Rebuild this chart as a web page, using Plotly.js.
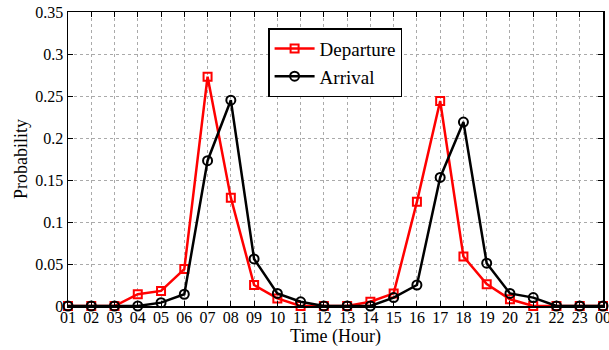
<!DOCTYPE html>
<html>
<head>
<meta charset="utf-8">
<script src="https://cdn.plot.ly/plotly-3.0.1.min.js"></script>
<style>html,body{margin:0;padding:0;background:#fff;}#chart{width:609px;height:350px;}</style>
</head>
<body>
<div id="chart"></div>
<script>
const hours = ["01","02","03","04","05","06","07","08","09","10","11","12","13","14","15","16","17","18","19","20","21","22","23","00"];
const departure = [0,0,0,0.014,0.018,0.044,0.273,0.129,0.025,0.009,0,0,0,0.005,0.015,0.124,0.244,0.059,0.026,0.008,0,0,0,0];
const arrival = [0,0,0,0,0.004,0.014,0.173,0.245,0.056,0.015,0.005,0,0,0,0.010,0.025,0.153,0.219,0.051,0.015,0.010,0,0,0];
const yTicks = [0,0.05,0.1,0.15,0.2,0.25,0.3,0.35];
const yTickText = ["0","0.05","0.1","0.15","0.2","0.25","0.3","0.35"];

const font = "'Liberation Serif', 'Times New Roman', Times, serif";
const traces = [
  {x: hours, y: departure, name: "Departure", type: "scatter", mode: "lines+markers",
   line: {color: "#ff0000", width: 2.5},
   marker: {symbol: "square-open", size: 8, color: "#ff0000", line: {width: 2, color: "#ff0000"}},
   cliponaxis: false},
  {x: hours, y: arrival, name: "Arrival", type: "scatter", mode: "lines+markers",
   line: {color: "#000000", width: 2.5},
   marker: {symbol: "circle-open", size: 9, color: "#000000", line: {width: 2, color: "#000000"}},
   cliponaxis: false}
];
const layout = {
  width: 609, height: 350,
  margin: {l: 68, r: 6, t: 12, b: 44},
  paper_bgcolor: "#fff", plot_bgcolor: "#fff",
  font: {family: font, size: 15, color: "#000"},
  showlegend: true,
  legend: {x: 0.374, y: 0.945, xanchor: "left", yanchor: "top",
    bgcolor: "#fff", bordercolor: "#000", borderwidth: 1.5,
    font: {family: font, size: 19, color: "#000"},
    tracegroupgap: 0, itemwidth: 40},
  xaxis: {
    type: "category", categoryorder: "array", categoryarray: hours,
    range: [0, 23],
    showline: true, linecolor: "#000", linewidth: 1.5, mirror: "ticks",
    ticks: "inside", ticklen: 5, tickcolor: "#000",
    ticklabelstandoff: -4,
    showgrid: true, gridcolor: "#aaa", griddash: "dot", gridwidth: 1,
    zeroline: false,
    tickfont: {family: font, size: 16, color: "#000"},
    title: {text: "Time (Hour)", font: {family: font, size: 18, color: "#000"}, standoff: 4}
  },
  yaxis: {
    range: [0, 0.35],
    tickvals: yTicks, ticktext: yTickText,
    showline: true, linecolor: "#000", linewidth: 1.5, mirror: "ticks",
    ticks: "inside", ticklen: 5, tickcolor: "#000",
    showgrid: true, gridcolor: "#aaa", griddash: "dot", gridwidth: 1,
    zeroline: false,
    tickfont: {family: font, size: 16, color: "#000"},
    title: {text: "Probability", font: {family: font, size: 18, color: "#000"}, standoff: 3}
  }
};
Plotly.newPlot("chart", traces, layout, {displayModeBar: false, staticPlot: true});
</script>
</body>
</html>
